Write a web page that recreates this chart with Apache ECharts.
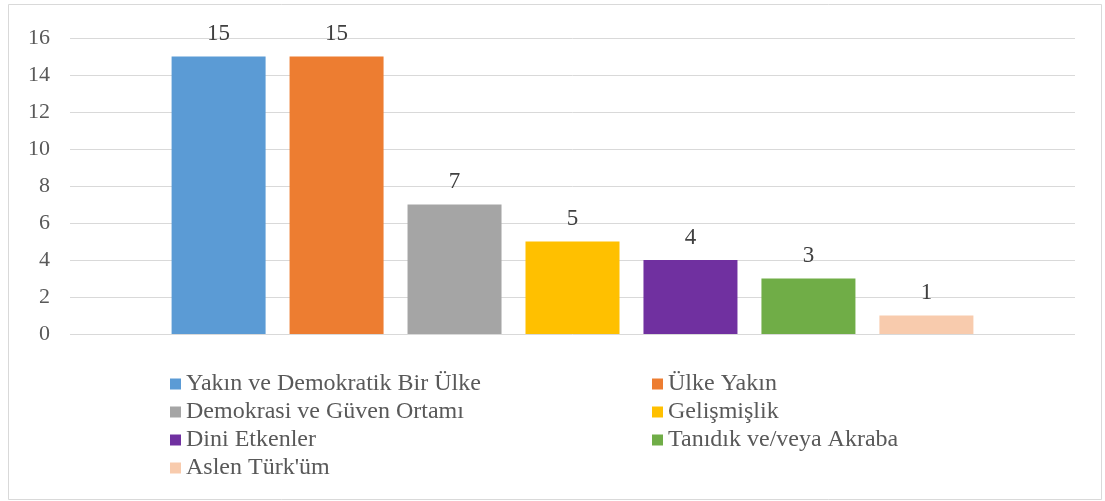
<!DOCTYPE html>
<html>
<head>
<meta charset="utf-8">
<script src="https://cdn.jsdelivr.net/npm/echarts@6/dist/echarts.min.js"></script>
<style>
html,body{margin:0;padding:0;background:#fff;}
#chart{width:1105px;height:501px;}
</style>
</head>
<body>
<div id="chart"></div>
<script>
const seriesNames = ['Yakın ve Demokratik Bir Ülke','Ülke Yakın','Demokrasi ve Güven Ortamı','Gelişmişlik','Dini Etkenler','Tanıdık ve/veya Akraba',"Aslen Türk'üm"];
const seriesValues = [15, 15, 7, 5, 4, 3, 1];
const seriesColors = ['#5B9BD5','#ED7D31','#A5A5A5','#FFC000','#7030A0','#70AD47','#F8CBAD'];
const categories = [''];
const legendLeft = ['Yakın ve Demokratik Bir Ülke','Demokrasi ve Güven Ortamı','Dini Etkenler',"Aslen Türk'üm"];
const legendRight = ['Ülke Yakın','Gelişmişlik','Tanıdık ve/veya Akraba'];

const FONT = '"Liberation Serif", "Times New Roman", serif';
const chart = echarts.init(document.getElementById('chart'));

const series = seriesNames.map((n, i) => ({
  name: n,
  type: 'bar',
  data: [seriesValues[i]],
  barWidth: 94,
  barGap: '25.5%',
  itemStyle: { color: seriesColors[i] },
  label: {
    show: true, position: 'top', distance: 11,
    color: '#404040', fontFamily: FONT, fontSize: 23
  }
}));

const legendCommon = {
  orient: 'vertical',
  itemWidth: 11, itemHeight: 11,
  itemGap: 4,
  icon: 'rect',
  textStyle: { color: '#595959', fontFamily: FONT, fontSize: 24, lineHeight: 24 }
};

chart.setOption({
  animation: false,
  backgroundColor: '#fff',
  grid: { left: 70, right: 30, top: 38, bottom: 167, containLabel: false },
  legend: [
    Object.assign({ data: legendLeft, left: 165, top: 367 }, legendCommon),
    Object.assign({ data: legendRight, left: 647, top: 367 }, legendCommon)
  ],
  xAxis: {
    type: 'category', data: categories,
    axisLine: { show: false }, axisTick: { show: false }, axisLabel: { show: false }
  },
  yAxis: {
    type: 'value', min: 0, max: 16, interval: 2,
    axisLine: { show: false }, axisTick: { show: false },
    axisLabel: { color: '#595959', fontFamily: FONT, fontSize: 22, margin: 20 },
    splitLine: { lineStyle: { color: '#D9D9D9', width: 1 } }
  },
  graphic: [{
    type: 'rect', silent: true,
    shape: { x: 8.5, y: 4.5, width: 1093, height: 495 },
    style: { fill: 'none', stroke: '#D9D9D9', lineWidth: 1 }
  }],
  series: series
});
</script>
</body>
</html>
